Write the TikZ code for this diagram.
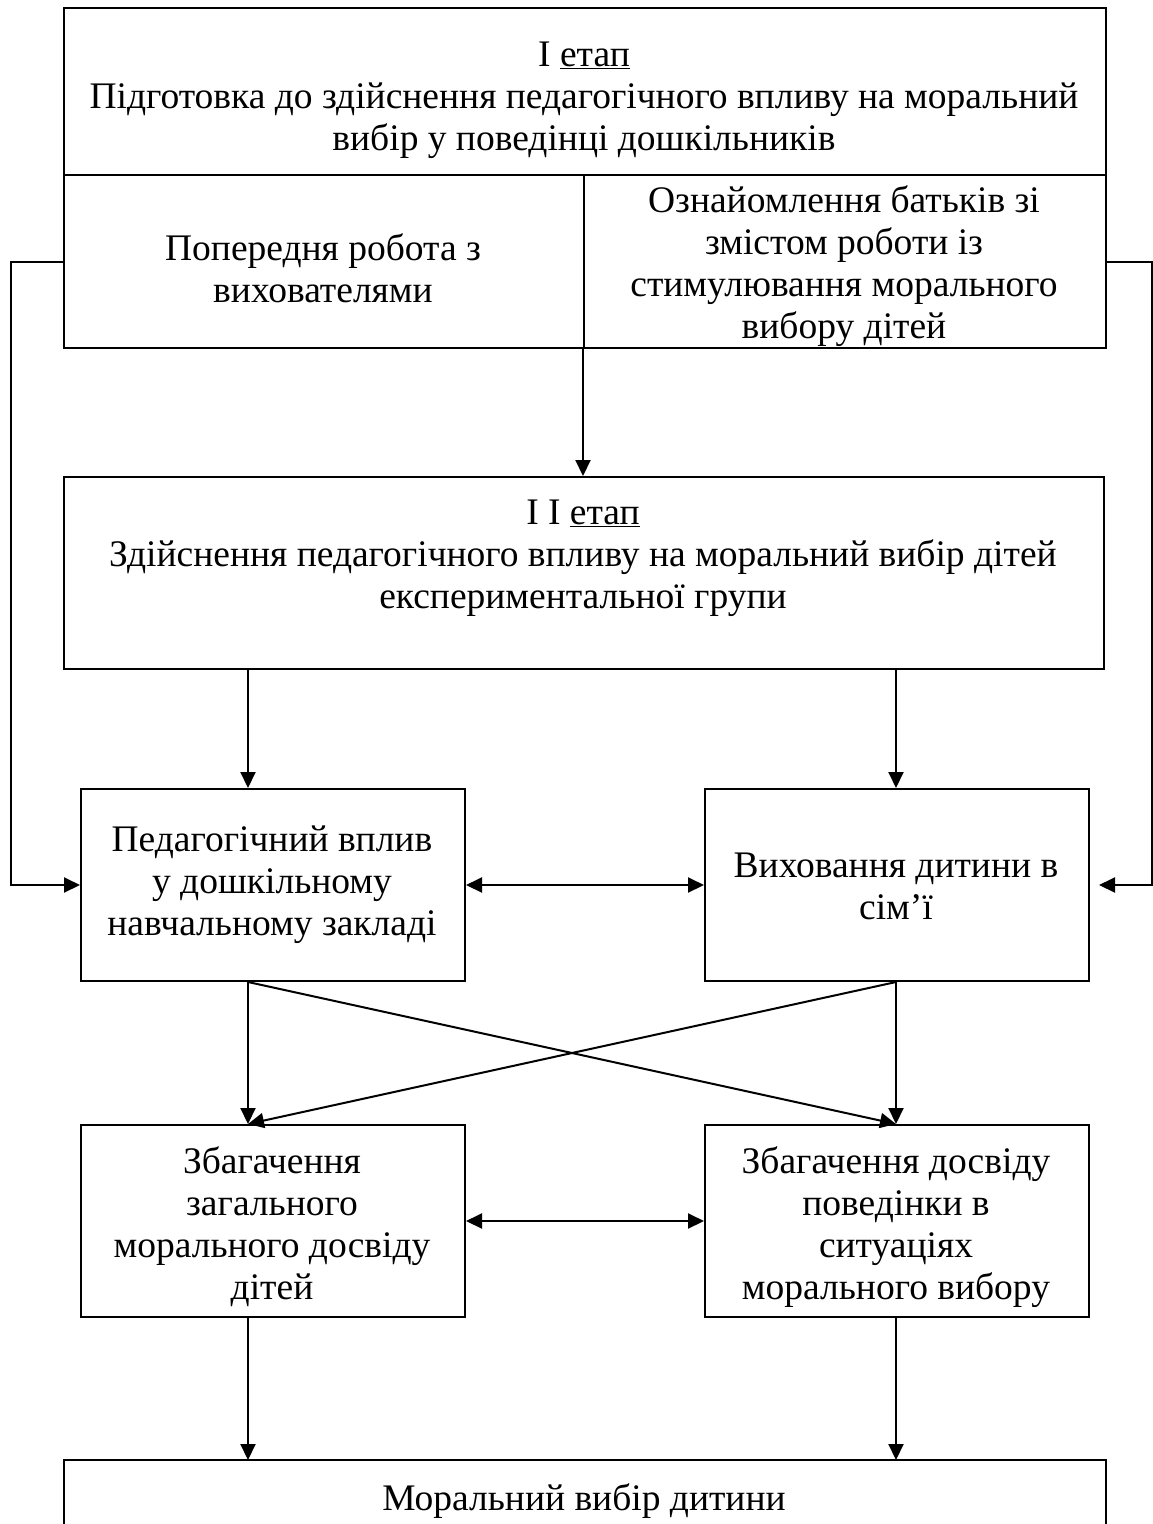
\documentclass[tikz,border=0pt]{standalone}
\usepackage{fontspec}
\setmainfont{Liberation Serif}
\usetikzlibrary{arrows.meta,calc}
\begin{document}
\begin{tikzpicture}[x=1pt,y=-1pt,
 box/.style={draw,line width=2pt,inner sep=0pt,anchor=north west},
 txt/.style={align=center,font=\fontsize{37.5}{42}\selectfont,inner sep=0pt},
 arr/.style={line width=2pt,-{Triangle[length=16pt,width=15pt]}},
 darr/.style={line width=2pt,{Triangle[length=16pt,width=15pt]}-{Triangle[length=16pt,width=15pt]}},
 conn/.style={line width=2pt}]
\useasboundingbox (0,0) rectangle (1153,1524);
\clip (0,0) rectangle (1153,1524);
\coordinate (colL) at (248,0);
\coordinate (colR) at (896,0);
% stage I
\node[box,minimum width=1042pt,minimum height=167pt] (top) at (63,7) {};
\node[box,minimum width=520pt,minimum height=173pt] (lc) at (63,174) {};
\node[box,minimum width=522pt,minimum height=173pt] (rc) at (583,174) {};
\node[txt] (t1) at (584,100) {I \underline{етап}\\Підготовка до здійснення педагогічного впливу на моральний\\вибір у поведінці дошкільників};
\node[txt] (tlc) at (323,268) {Попередня робота з\\вихователями};
\node[txt] (trc) at (844,266) {Ознайомлення батьків зі\\змістом роботи із\\стимулювання морального\\вибору дітей};
% stage II
\node[box,minimum width=1040pt,minimum height=192pt] (b2) at (63,476) {};
\node[txt] (tb2) at (583,558) {I I \underline{етап}\\Здійснення педагогічного впливу на моральний вибір дітей\\експериментальної групи};
% middle boxes
\node[box,minimum width=384pt,minimum height=192pt] (ped) at (80,788) {};
\node[txt] (tped) at (272,885) {Педагогічний вплив\\у дошкільному\\навчальному закладі};
\node[box,minimum width=384pt,minimum height=192pt] (vyh) at (704,788) {};
\node[txt] (tvyh) at (896,886) {Виховання дитини в\\сім’ї};
% lower boxes
\node[box,minimum width=384pt,minimum height=192pt] (zl) at (80,1124) {};
\node[txt] (tzl) at (272,1227) {Збагачення\\загального\\морального досвіду\\дітей};
\node[box,minimum width=384pt,minimum height=192pt] (zr) at (704,1124) {};
\node[txt] (tzr) at (896,1227) {Збагачення досвіду\\поведінки в\\ситуаціях\\морального вибору};
% final box (cut off at the bottom)
\node[box,draw=none,minimum width=1040pt,minimum height=100pt] (fin) at (64,1460) {};
\draw[conn] (fin.south west) -- (fin.north west) -- (fin.north east) -- (fin.south east);
\node[txt] (tfin) at (584,1501) {Моральний вибір дитини};
% connectors
\draw[arr] (lc.west) -- ++(-52,0) |- (ped.west);
\draw[arr,shorten >=9pt] (rc.east) -- ++(45,0) |- (vyh.east);
\draw[arr] (rc.south west) -- (rc.south west |- b2.north);
\draw[arr] (b2.south -| colL) -- (ped.north -| colL);
\draw[arr] (b2.south -| colR) -- (vyh.north -| colR);
\draw[darr] (ped.east) -- (vyh.west);
\draw[arr] (ped.south -| colL) -- (zl.north -| colL);
\draw[arr] (vyh.south -| colR) -- (zr.north -| colR);
\draw[arr] (ped.south -| colL) -- (zr.north -| colR);
\draw[arr] (vyh.south -| colR) -- (zl.north -| colL);
\draw[darr] (zl.east) -- (zr.west);
\draw[arr] (zl.south -| colL) -- (fin.north -| colL);
\draw[arr] (zr.south -| colR) -- (fin.north -| colR);
\end{tikzpicture}
\end{document}
